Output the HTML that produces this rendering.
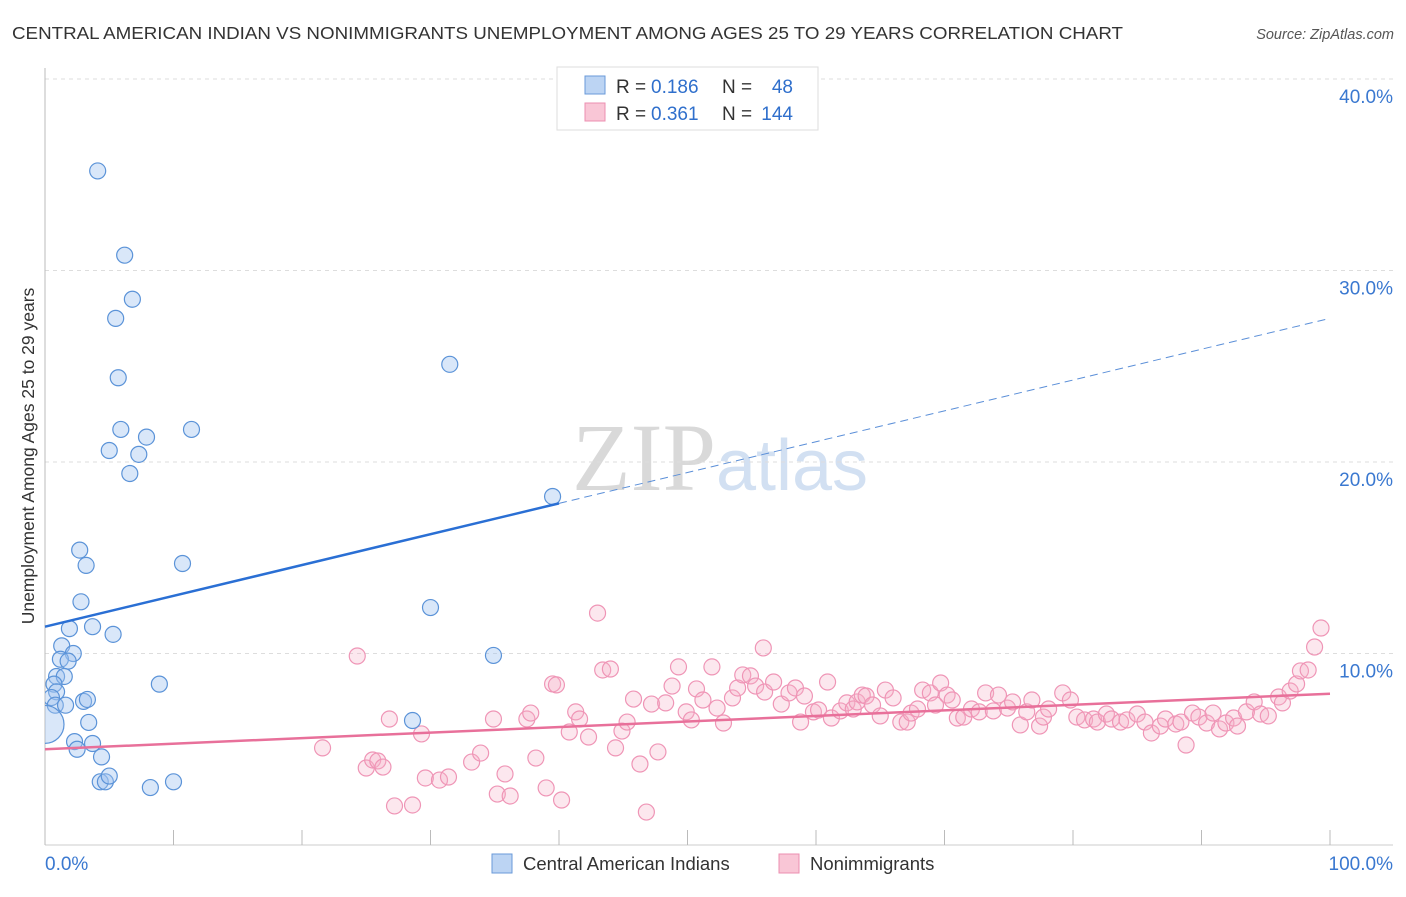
<!DOCTYPE html>
<html><head><meta charset="utf-8"><style>
body{margin:0;background:#fff;font-family:"Liberation Sans",sans-serif}
</style></head><body>
<svg width="1406" height="892" xmlns="http://www.w3.org/2000/svg" id="c" font-family="Liberation Sans, sans-serif">
<defs><clipPath id="plot"><rect x="45" y="60" width="1360" height="786"/></clipPath></defs>
<text x="12" y="39" font-size="17.5" fill="#333" textLength="1111" lengthAdjust="spacingAndGlyphs">CENTRAL AMERICAN INDIAN VS NONIMMIGRANTS UNEMPLOYMENT AMONG AGES 25 TO 29 YEARS CORRELATION CHART</text>
<text x="1394" y="39" font-size="14.5" fill="#555" text-anchor="end" font-style="italic">Source: ZipAtlas.com</text>
<text x="720" y="490" font-size="96" fill="#ddd" text-anchor="middle" font-family="Liberation Serif, serif"><tspan fill="#d9d9d9">ZIP</tspan><tspan fill="#d2e0f2" font-family="Liberation Sans, sans-serif" font-size="72">atlas</tspan></text>
<g id="grid"></g><g id="axes"></g><g id="pts" clip-path="url(#plot)"></g><g id="lines"></g>
<text transform="translate(34,456) rotate(-90)" font-size="17.5" fill="#333" text-anchor="middle">Unemployment Among Ages 25 to 29 years</text>
<g>
<rect x="557" y="67" width="261" height="63" fill="#fff" stroke="#ddd"/>
<rect x="585" y="76" width="20" height="18" fill="#bcd4f3" stroke="#6a9ad8"/>
<text x="616" y="93" font-size="19" fill="#333">R =</text><text x="651" y="93" font-size="19" fill="#2f6fcc">0.186</text>
<text x="722" y="93" font-size="19" fill="#333">N =</text><text x="793" y="93" font-size="19" fill="#2f6fcc" text-anchor="end">48</text>
<rect x="585" y="103" width="20" height="18" fill="#f9c6d6" stroke="#ec8fb0"/>
<text x="616" y="120" font-size="19" fill="#333">R =</text><text x="651" y="120" font-size="19" fill="#2f6fcc">0.361</text>
<text x="722" y="120" font-size="19" fill="#333">N =</text><text x="793" y="120" font-size="19" fill="#2f6fcc" text-anchor="end">144</text>
</g>
<g>
<rect x="492" y="854" width="20" height="19" fill="#bcd4f3" stroke="#6a9ad8"/>
<text x="523" y="870" font-size="18.5" fill="#333">Central American Indians</text>
<rect x="779" y="854" width="20" height="19" fill="#f9c6d6" stroke="#ec8fb0"/>
<text x="810" y="870" font-size="18.5" fill="#333">Nonimmigrants</text>
</g>
</svg>
<script>
const yTicks=[10,20,30,40];
const yTickLabels=["10.0%","20.0%","30.0%","40.0%"];
const xTickLabels=["0.0%","100.0%"];
const blueX=[4.1,6.2,6.8,5.5,5.7,5.9,7.9,5.0,7.3,6.6,11.4,31.5,39.5,2.7,3.2,10.7,2.8,1.9,3.7,5.3,1.3,2.2,1.2,1.8,0.9,1.5,0.7,0.9,0.5,8.9,30.0,34.9,3.0,3.3,0.8,1.6,0.0,3.4,28.6,2.3,2.5,3.7,4.4,4.3,4.7,5.0,8.2,10.0];
const blueY=[35.2,30.8,28.5,27.5,24.4,21.7,21.3,20.6,20.4,19.4,21.7,25.1,18.2,15.4,14.6,14.7,12.7,11.3,11.4,11.0,10.4,10.0,9.7,9.6,8.8,8.8,8.4,8.0,7.7,8.4,12.4,9.9,7.5,7.6,7.3,7.3,6.3,6.4,6.5,5.4,5.0,5.3,4.6,3.3,3.3,3.6,3.0,3.3];
const pinkX=[21.6,24.3,25.0,25.5,25.9,26.3,26.8,27.2,28.6,29.3,29.6,30.7,31.4,33.2,33.9,34.9,35.2,35.8,36.2,37.5,37.8,38.2,39.0,39.5,39.8,40.2,40.8,41.3,41.6,42.3,43.0,43.4,44.0,44.4,44.9,45.3,45.8,46.3,46.8,47.2,47.7,48.3,48.8,49.3,49.9,50.3,50.7,51.2,51.9,52.3,52.8,53.5,53.9,54.3,54.9,55.3,55.9,56.0,56.7,57.3,57.9,58.4,59.1,58.8,59.8,60.2,60.9,61.2,61.9,62.4,62.9,63.2,63.6,63.9,64.4,65.0,65.4,66.0,66.6,67.1,67.4,67.9,68.3,68.9,69.3,69.7,70.2,70.6,71.0,71.5,72.1,72.7,73.2,73.8,74.2,74.9,75.3,75.9,76.4,76.8,77.4,77.7,78.1,79.2,79.8,80.3,80.9,81.6,81.9,82.6,83.0,83.7,84.2,85.0,85.6,86.1,86.8,87.2,88.0,88.4,88.8,89.3,89.8,90.4,90.9,91.4,91.9,92.5,92.8,93.5,94.1,94.6,95.2,96.0,96.3,96.9,97.4,97.7,98.3,98.8,99.3];
const pinkY=[5.07,9.87,4.02,4.44,4.39,4.07,6.58,2.04,2.09,5.80,3.50,3.39,3.55,4.33,4.80,6.58,2.66,3.71,2.56,6.58,6.89,4.54,2.98,8.41,8.36,2.35,5.90,6.95,6.58,5.64,12.11,9.14,9.19,5.07,5.95,6.42,7.62,4.23,1.72,7.36,4.86,7.42,8.30,9.30,6.95,6.53,8.15,7.57,9.30,7.15,6.37,7.68,8.20,8.88,8.83,8.30,10.29,7.99,8.51,7.36,7.94,8.20,7.78,6.42,6.95,7.05,8.51,6.63,7.00,7.42,7.10,7.47,7.83,7.78,7.31,6.74,8.09,7.68,6.42,6.42,6.89,7.10,8.09,7.94,7.31,8.46,7.83,7.57,6.63,6.68,7.10,6.95,7.94,7.00,7.83,7.15,7.47,6.27,6.95,7.57,6.21,6.68,7.10,7.94,7.57,6.68,6.53,6.58,6.42,6.84,6.58,6.42,6.53,6.84,6.42,5.85,6.21,6.58,6.32,6.42,5.22,6.89,6.68,6.37,6.89,6.06,6.37,6.63,6.21,6.95,7.47,6.84,6.74,7.73,7.42,8.04,8.41,9.09,9.14,10.34,11.33];
const blueTrend=[11.4,27.5];
const pinkTrend=[5.0,7.9];
const NS="http://www.w3.org/2000/svg";
const X=v=>45+v*12.85, Y=v=>845-v*19.15;
function mk(tag,a,p){const e=document.createElementNS(NS,tag);for(const k in a)e.setAttribute(k,a[k]);document.getElementById(p).appendChild(e);return e;}
yTicks.forEach((t,i)=>{
 const g=mk('line',{x1:45,x2:1393,y1:Y(t),y2:Y(t),stroke:'#ddd','stroke-dasharray':'4,4'},'grid');
 
 
 const l=mk('text',{x:1393,y:Y(t)+24,'font-size':19,fill:'#3a78d0','text-anchor':'end'},'axes');
 l.textContent=yTickLabels[i];
 
 
});
const ax=mk('line',{x1:45,x2:45,y1:68,y2:845,stroke:'#bbb'},'axes');


const bx=mk('line',{x1:45,x2:1393,y1:845,y2:845,stroke:'#ccc'},'axes');


for(let i=0;i<=10;i++){const t=mk('line',{x1:X(i*10),x2:X(i*10),y1:830,y2:845,stroke:'#bbb'},'axes');
 
 }
[[0,'start',45],[100,'end',1393]].forEach((d,i)=>{const t=mk('text',{x:d[2],y:870,'font-size':19,fill:'#3a78d0','text-anchor':d[1]},'axes');t.textContent=xTickLabels[i];
 
 });
pinkX.forEach((x,i)=>{const c=mk('circle',{cx:X(x),cy:Y(pinkY[i]),r:8,fill:'rgba(246,176,200,0.3)',stroke:'#ef95b6','stroke-width':1.2},'pts');
 
 });
blueX.forEach((x,i)=>{const c=mk('circle',{cx:X(x),cy:Y(blueY[i]),r:i==36?19:8,fill:'rgba(160,196,240,0.4)',stroke:'#5b93d8','stroke-width':1.2},'pts');
 
 });
const bAt=v=>blueTrend[0]+(blueTrend[1]-blueTrend[0])*v/100;
const b1=mk('line',{x1:X(0),y1:Y(bAt(0)),x2:X(40),y2:Y(bAt(40)),stroke:'#2a6fd4','stroke-width':2.5},'lines');


const b2=mk('line',{x1:X(40),y1:Y(bAt(40)),x2:X(100),y2:Y(bAt(100)),stroke:'#5b8fd8','stroke-width':1,'stroke-dasharray':'8,5'},'lines');


const p1=mk('line',{x1:X(0),y1:Y(pinkTrend[0]),x2:X(100),y2:Y(pinkTrend[1]),stroke:'#e8709a','stroke-width':2.5},'lines');


</script>
</body></html>
